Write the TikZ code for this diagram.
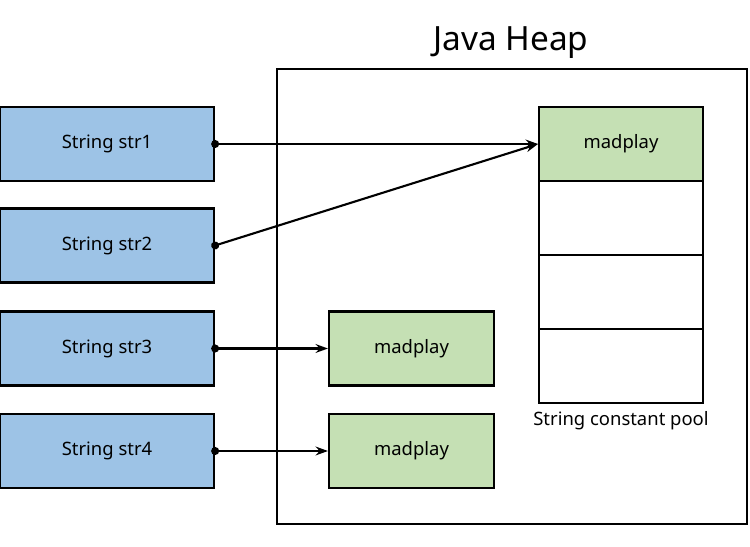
\documentclass[tikz,border=0pt]{standalone}
\usepackage{fontspec}
\setmainfont{Noto Sans}
\usetikzlibrary{arrows.meta}

\definecolor{varblue}{HTML}{9DC3E6}
\definecolor{poolgreen}{HTML}{C5E0B4}

\tikzset{
  varbox/.style={draw, line width=1.2pt, fill=varblue, minimum width=4.28cm, minimum height=1.48cm, font=\fontsize{10.5}{12}\selectfont},
  objbox/.style={draw, line width=1.2pt, fill=poolgreen, minimum width=3.3cm, minimum height=1.48cm, font=\fontsize{10.5}{12}\selectfont},
  poolcell/.style={draw, line width=1.2pt, minimum width=3.28cm, minimum height=1.48cm, font=\fontsize{10.5}{12}\selectfont},
  refline/.style={line width=1.2pt, {Circle[length=4.5pt]}-{Stealth[length=7pt,width=5pt]}, shorten <=-2.2pt}
}

\begin{document}
\begin{tikzpicture}
  \useasboundingbox (0,0) rectangle (15,10.94);

  % heap
  \draw[line width=1.2pt] (5.54,0.46) rectangle (14.94,9.56);
  \node (heap) at (10.22,10.08) {\fontsize{19}{22}\selectfont Java Heap};

  % string variables
  \foreach \i/\y in {1/8.06, 2/6.03, 3/3.97, 4/1.92}
  {  \node[varbox] (str\i) at (2.14,\y) {String str\i};}

  % constant pool
  \node[poolcell, fill=poolgreen] (pool1) at (12.42,8.06) {madplay};
  \foreach \i/\y in {2/6.58, 3/5.10, 4/3.62}
  {  \node[poolcell] (pool\i) at (12.42,\y) {};}
  \node (poollabel) at (12.42,2.52) {\fontsize{10.5}{12}\selectfont String constant pool};

  % new objects
  \node[objbox] (obj3) at (8.23,3.97) {madplay};
  \node[objbox] (obj4) at (8.23,1.92) {madplay};

  % references
  \draw[refline] (str1.east) -- (pool1.west);
  \draw[refline] (str2.east) -- (pool1.west);
  \draw[refline] (str3.east) -- (obj3.west);
  \draw[refline] (str4.east) -- (obj4.west);
\end{tikzpicture}
\end{document}
